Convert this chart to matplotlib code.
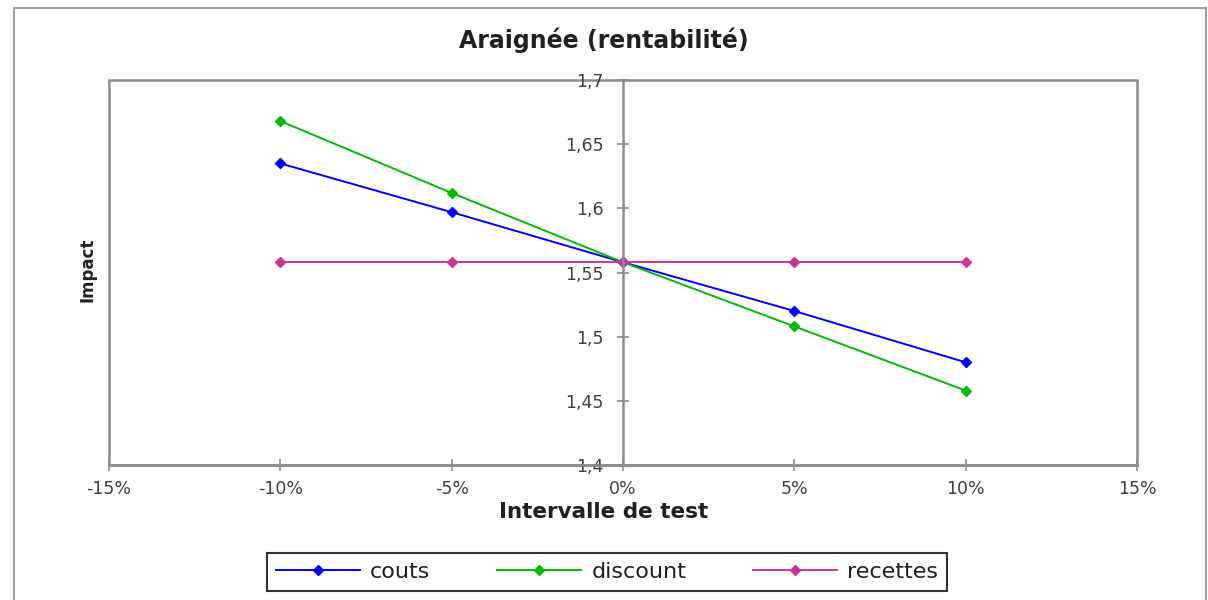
import matplotlib
matplotlib.use("Agg")
import matplotlib.pyplot as plt
from matplotlib.patches import Rectangle
from matplotlib.ticker import FuncFormatter, MultipleLocator

# data
intervalle = [-0.10, -0.05, 0.0, 0.05, 0.10]
couts = [1.635, 1.597, 1.558, 1.520, 1.480]
discount = [1.668, 1.612, 1.558, 1.508, 1.458]
recettes = [1.558, 1.558, 1.558, 1.558, 1.558]

series = [("couts", couts, "#0000ff"),
          ("discount", discount, "#00bb00"),
          ("recettes", recettes, "#cc3399")]

grey = "#8c8c8c"
txt = "#404040"

fig = plt.figure(figsize=(12.08, 6.0), dpi=100)
# outer chart frame
fig.patches.append(Rectangle((14 / 1208, -0.01), (1206 - 14) / 1208, 1 - 8 / 600 + 0.01,
                             transform=fig.transFigure, fill=False,
                             edgecolor="#a0a0a0", lw=1.5))

ax = fig.add_axes([109 / 1208, 1 - 465 / 600, (1137 - 109) / 1208, (465 - 80) / 600])

for name, vals, col in series:
    ax.plot(intervalle, vals, color=col, lw=1.4, marker="D", ms=5, label=name)

ax.set_xlim(-0.15, 0.15)
ax.set_ylim(1.4, 1.7)
ax.xaxis.set_major_locator(MultipleLocator(0.05))
ax.yaxis.set_major_locator(MultipleLocator(0.05))
ax.xaxis.set_major_formatter(FuncFormatter(lambda v, p: "%d%%" % round(v * 100)))
ax.yaxis.set_major_formatter(FuncFormatter(lambda v, p: ("%g" % round(v, 2)).replace(".", ",")))

# vertical axis sits at 0%
ax.spines["left"].set_position(("data", 0))
ax.spines["right"].set_visible(False)
ax.spines["top"].set_visible(False)
for s in ("left", "bottom"):
    ax.spines[s].set_color(grey)
    ax.spines[s].set_linewidth(1.8)
ax.add_patch(Rectangle((0, 0), 1, 1, transform=ax.transAxes, fill=False,
                       edgecolor=grey, lw=1.8, zorder=0.5, clip_on=False))

ax.tick_params(axis="both", direction="inout", length=8, width=1.2, color=grey,
               labelsize=12.5, labelcolor=txt)
ax.tick_params(axis="x", pad=7)
ax.tick_params(axis="y", pad=10)

fig.text(0.5, 1 - 40 / 600, "Araignée (rentabilité)", ha="center", va="center",
         fontsize=17, fontweight="bold", color="#202020")
fig.text(0.5, 1 - 512 / 600, "Intervalle de test", ha="center", va="center",
         fontsize=15.5, fontweight="bold", color="#202020")
fig.text(88 / 1208, 1 - 270 / 600, "Impact", ha="center", va="center", rotation=90,
         fontsize=12, fontweight="bold", color="#202020")

leg = fig.legend(loc="center", bbox_to_anchor=(607 / 1208, 1 - 572 / 600), ncol=3,
                 fontsize=16, frameon=True, fancybox=False, edgecolor="black",
                 handlelength=3.8, handletextpad=0.45, columnspacing=3.0,
                 borderpad=0.4, borderaxespad=0)
leg.get_frame().set_linewidth(1.5)
for t in leg.get_texts():
    t.set_color("#202020")

fig.savefig("out.png", dpi=100)
